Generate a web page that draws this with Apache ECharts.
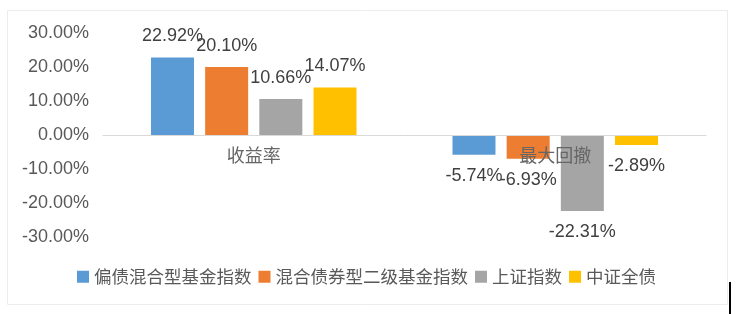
<!DOCTYPE html>
<html>
<head>
<meta charset="utf-8">
<script src="https://cdn.jsdelivr.net/npm/echarts@6/dist/echarts.min.js"></script>
<style>
  html, body { margin: 0; padding: 0; background: #ffffff; }
  #chart { width: 739px; height: 314px; }
</style>
</head>
<body>
<div id="chart"></div>
<script>
// Categories along the x axis
var categories = ['收益率', '最大回撤'];
// Series names (legend order)
var seriesNames = ['偏债混合型基金指数', '混合债券型二级基金指数', '上证指数', '中证全债'];
// Values in percent, one array per series: [收益率, 最大回撤]
var valuesBondMixed = [22.92, -5.74];
var valuesMixedBondII = [20.10, -6.93];
var valuesShanghai = [10.66, -22.31];
var valuesChinaBond = [14.07, -2.89];
// Y axis range and step, in percent
var yMin = -30, yMax = 30, yStep = 10;

var colors = ['#5B9BD5', '#ED7D31', '#A5A5A5', '#FFC000'];
var seriesValues = [valuesBondMixed, valuesMixedBondII, valuesShanghai, valuesChinaBond];
var latin = '"Liberation Sans", Arial, "Noto Sans CJK SC", sans-serif';
var cjk = '"Noto Sans CJK SC", "Liberation Sans", sans-serif';

function pct(v) { return v.toFixed(2) + '%'; }

var series = seriesNames.map(function (name, i) {
  return {
    name: name,
    type: 'bar',
    barWidth: 43,
    barGap: '26%',
    z: 2,
    itemStyle: { color: colors[i] },
    data: seriesValues[i].map(function (v) {
      return {
        value: v,
        label: { position: v < 0 ? 'bottom' : 'top' }
      };
    }),
    label: {
      show: true,
      distance: 12,
      color: '#404040',
      fontFamily: latin,
      fontSize: 18,
      formatter: function (p) { return pct(p.value); }
    }
  };
});

var chart = echarts.init(document.getElementById('chart'), null, { renderer: 'canvas' });
chart.setOption({
  animation: false,
  backgroundColor: '#ffffff',
  color: colors,
  grid: { left: 103, right: 33, top: 33.5, bottom: 77, containLabel: false },
  legend: {
    data: seriesNames,
    left: 72,
    top: 263,
    itemWidth: 12,
    itemHeight: 12,
    itemGap: 7,
    icon: 'rect',
    textStyle: { color: '#595959', fontFamily: cjk, fontSize: 17.5 }
  },
  xAxis: {
    type: 'category',
    data: categories,
    z: 10,
    axisLine: { onZero: true, lineStyle: { color: '#d9d9d9', width: 1 } },
    axisTick: { show: false },
    // labels sit just under the zero line, drawn over the bars
    axisLabel: { color: '#666666', fontFamily: cjk, fontSize: 18, margin: -91 }
  },
  yAxis: {
    type: 'value',
    min: yMin,
    max: yMax,
    interval: yStep,
    axisLine: { show: false },
    axisTick: { show: false },
    splitLine: { show: false },
    axisLabel: {
      color: '#595959',
      fontFamily: latin,
      fontSize: 18,
      margin: 14,
      formatter: function (v) { return pct(v); }
    }
  },
  graphic: [
    {
      type: 'rect',
      shape: { x: 7.5, y: 10.5, width: 720, height: 294 },
      style: { fill: 'none', stroke: '#ececec', lineWidth: 1 },
      silent: true,
      z: -1
    },
    {
      type: 'rect',
      shape: { x: 729, y: 282, width: 2, height: 32 },
      style: { fill: '#000000' },
      silent: true
    }
  ],
  series: series
});
</script>
</body>
</html>
